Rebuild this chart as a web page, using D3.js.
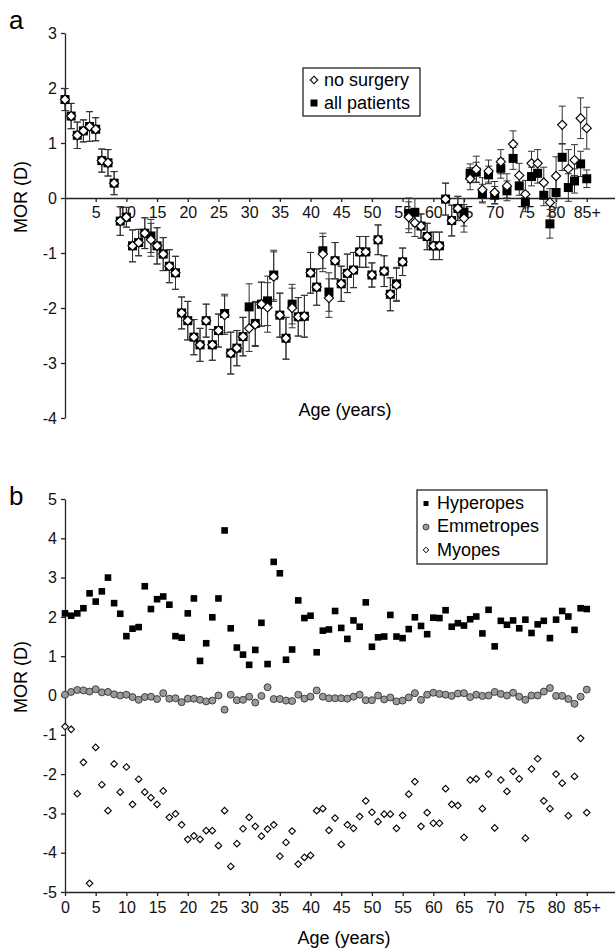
<!DOCTYPE html>
<html lang="en">
<head>
<meta charset="UTF-8">
<script src="https://d3js.org/d3.v7.min.js"></script>
<title>MOR by age</title>
<style>
  body { margin: 0; background: #fff; }
  svg { display: block; font-family: Arial, "Liberation Sans", Helvetica, sans-serif; }
</style>
</head>
<body>
<div id="chart"></div>
<script>
// ages 0..85 (85 = "85+")
const ages = d3.range(0, 86);

// panel a: mean ocular refraction, no surgery vs all patients
const noSurgery = [
  1.79, 1.49, 1.14, 1.22, 1.30, 1.25, 0.68, 0.64, 0.27, -0.42,
  -0.35, -0.87, -0.81, -0.64, -0.76, -0.87, -1.02, -1.24, -1.36, -2.09,
  -2.23, -2.53, -2.67, -2.23, -2.67, -2.41, -2.13, -2.82, -2.73, -2.52,
  -2.37, -2.30, -1.93, -1.99, -1.43, -2.13, -2.55, -2.00, -2.16, -2.15,
  -1.36, -1.62, -1.02, -1.82, -1.14, -1.56, -1.37, -1.31, -0.98, -0.98,
  -1.40, -0.76, -1.33, -1.75, -1.58, -1.16, -0.35, -0.45, -0.51, -0.70,
  -0.87, -0.87, -0.02, -0.41, -0.19, -0.37, 0.35, 0.52, 0.15, 0.49,
  0.10, 0.66, 0.22, 0.98, 0.41, 0.07, 0.63, 0.63, 0.28, -0.08,
  0.40, 1.33, 0.53, 0.69, 1.45, 1.27
];
const allPatients = [
  1.79, 1.49, 1.14, 1.22, 1.30, 1.25, 0.68, 0.64, 0.27, -0.42,
  -0.35, -0.87, -0.81, -0.64, -0.69, -0.87, -1.02, -1.24, -1.36, -2.09,
  -2.23, -2.53, -2.67, -2.23, -2.67, -2.41, -2.10, -2.82, -2.73, -2.52,
  -1.98, -2.28, -1.93, -1.87, -1.40, -2.13, -2.55, -1.93, -2.16, -2.15,
  -1.36, -1.62, -0.96, -1.71, -1.14, -1.56, -1.37, -1.31, -0.98, -0.98,
  -1.40, -0.76, -1.33, -1.75, -1.56, -1.16, -0.28, -0.26, -0.51, -0.70,
  -0.87, -0.87, -0.02, -0.41, -0.19, -0.26, 0.45, 0.47, 0.08, 0.42,
  0.05, 0.54, 0.13, 0.72, 0.22, -0.07, 0.39, 0.45, 0.05, -0.47,
  0.10, 0.74, 0.19, 0.31, 0.62, 0.35
];
// error bar half-lengths
const errNoSurgery = [
  0.20, 0.23, 0.24, 0.20, 0.27, 0.21, 0.21, 0.24, 0.21, 0.26,
  0.18, 0.29, 0.24, 0.28, 0.30, 0.33, 0.30, 0.30, 0.30, 0.29,
  0.35, 0.32, 0.30, 0.30, 0.28, 0.30, 0.35, 0.38, 0.32, 0.35,
  0.42, 0.40, 0.40, 0.45, 0.45, 0.40, 0.38, 0.36, 0.35, 0.38,
  0.37, 0.33, 0.32, 0.35, 0.33, 0.32, 0.35, 0.32, 0.28, 0.28,
  0.22, 0.27, 0.28, 0.30, 0.30, 0.25, 0.28, 0.25, 0.22, 0.24,
  0.25, 0.25, 0.29, 0.28, 0.22, 0.25, 0.20, 0.24, 0.22, 0.20,
  0.20, 0.22, 0.22, 0.24, 0.22, 0.25, 0.22, 0.25, 0.28, 0.25,
  0.35, 0.34, 0.35, 0.28, 0.37, 0.38
];
const errAll = [
  0.20, 0.23, 0.24, 0.20, 0.27, 0.21, 0.21, 0.24, 0.21, 0.26,
  0.18, 0.29, 0.24, 0.28, 0.30, 0.33, 0.30, 0.30, 0.30, 0.29,
  0.35, 0.32, 0.30, 0.30, 0.28, 0.30, 0.35, 0.38, 0.32, 0.35,
  0.42, 0.40, 0.40, 0.45, 0.45, 0.40, 0.38, 0.36, 0.35, 0.38,
  0.37, 0.33, 0.32, 0.35, 0.33, 0.32, 0.35, 0.32, 0.28, 0.28,
  0.22, 0.27, 0.28, 0.30, 0.30, 0.25, 0.28, 0.25, 0.22, 0.24,
  0.25, 0.25, 0.29, 0.28, 0.22, 0.25, 0.17, 0.18, 0.17, 0.16,
  0.16, 0.18, 0.18, 0.20, 0.17, 0.18, 0.17, 0.18, 0.19, 0.26,
  0.28, 0.24, 0.25, 0.22, 0.23, 0.16
];

// panel b: refractive groups
const hyperopes = [
  2.09, 2.03, 2.09, 2.22, 2.60, 2.39, 2.65, 3.00, 2.35, 2.08,
  1.51, 1.70, 1.74, 2.78, 2.20, 2.45, 2.52, 2.31, 1.51, 1.47,
  2.09, 2.47, 0.88, 1.33, 1.99, 2.47, 4.20, 1.71, 1.22, 1.04,
  0.78, 1.16, 1.85, 0.80, 3.40, 3.11, 0.91, 1.17, 2.42, 1.97,
  2.03, 1.10, 1.65, 1.68, 2.15, 1.72, 1.44, 1.91, 1.75, 2.37,
  1.24, 1.48, 1.50, 2.05, 1.50, 1.46, 1.69, 1.99, 1.77, 1.56,
  1.98, 1.97, 2.17, 1.75, 1.84, 1.78, 1.94, 2.01, 1.58, 2.18,
  1.25, 1.90, 1.80, 1.91, 1.71, 1.93, 1.59, 1.81, 1.90, 1.46,
  1.93, 2.15, 2.01, 1.67, 2.22, 2.20
];
const emmetropes = [
  0.02, 0.09, 0.14, 0.13, 0.10, 0.16, 0.08, 0.09, 0.03, 0.00,
  0.02, -0.04, -0.11, -0.04, -0.03, -0.09, 0.06, -0.08, -0.07, -0.17,
  -0.08, -0.08, -0.11, -0.15, -0.13, 0.00, -0.36, 0.02, -0.12, -0.11,
  -0.03, -0.18, -0.01, 0.21, -0.09, -0.09, -0.13, -0.14, 0.02, -0.08,
  -0.03, 0.13, -0.03, -0.07, -0.07, -0.07, -0.08, -0.03, 0.02, -0.12,
  -0.12, 0.00, -0.10, -0.05, -0.15, -0.13, -0.05, 0.06, -0.11, 0.02,
  0.07, 0.04, 0.02, -0.01, 0.05, 0.06, -0.04, 0.02, -0.01, 0.00,
  0.09, 0.04, 0.00, 0.07, -0.03, -0.11, 0.00, 0.00, 0.10, 0.19,
  -0.01, -0.01, -0.09, -0.21, -0.03, 0.15
];
const myopes = [
  -0.79, -0.86, -2.50, -1.70, -4.78, -1.32, -2.27, -2.93, -1.74, -2.46,
  -1.82, -2.77, -2.13, -2.46, -2.60, -2.77, -2.43, -3.10, -3.01, -3.29,
  -3.66, -3.57, -3.66, -3.44, -3.44, -3.82, -2.93, -4.35, -3.77, -3.39,
  -3.10, -3.33, -3.58, -3.40, -3.29, -4.09, -3.74, -3.45, -4.29, -4.12,
  -4.07, -2.93, -2.88, -3.43, -3.12, -3.79, -3.29, -3.38, -3.08, -2.68,
  -2.97, -3.21, -3.02, -3.02, -3.38, -3.05, -2.51, -2.19, -3.33, -2.98,
  -3.25, -3.25, -2.37, -2.77, -2.80, -3.61, -2.15, -2.12, -2.88, -2.00,
  -3.37, -2.15, -2.44, -1.93, -2.12, -3.63, -1.87, -1.61, -2.68, -2.88,
  -2.00, -2.23, -3.06, -2.06, -1.09, -2.98
];

const ticksA = [5, 10, 15, 20, 25, 30, 35, 40, 45, 50, 55, 60, 65, 70, 75, 80, 85];
const ticksB = [0, 5, 10, 15, 20, 25, 30, 35, 40, 45, 50, 55, 60, 65, 70, 75, 80, 85];
const ageLabel = d => (d === 85 ? '85+' : String(d));
const yTicksA = [-4, -3, -2, -1, 0, 1, 2, 3];
const yTicksB = [-5, -4, -3, -2, -1, 0, 1, 2, 3, 4, 5];
const plainNum = d => String(d); // keeps "-1" with a hyphen, like the original

const svg = d3.select('#chart').append('svg').attr('width', 615).attr('height', 948);

const x = d3.scaleLinear().domain([0, 89.6]).range([65, 615]);
const diamond = r => `M0,${-r}L${r},0L0,${r}L${-r},0Z`;

function styleAxis(g) {
  g.selectAll('path, line').attr('stroke', '#222').attr('stroke-width', 1.3);
  g.selectAll('text').attr('font-size', 16).attr('fill', '#111');
}

// ---------- panel a ----------
const yA = d3.scaleLinear().domain([-4, 3]).range([418, 33]);
const gA = svg.append('g');

gA.append('g')
  .attr('transform', `translate(0,${yA(0)})`)
  .call(d3.axisBottom(x).tickValues(ticksA).tickFormat(ageLabel).tickSize(4).tickPadding(5).tickSizeOuter(0))
  .call(styleAxis);
gA.append('g')
  .attr('transform', `translate(${x(0)},0)`)
  .call(d3.axisLeft(yA).tickValues(yTicksA).tickFormat(plainNum).tickSize(4).tickPadding(4).tickSizeOuter(0))
  .call(styleAxis);

function errorBars(g, vals, errs) {
  const eb = g.append('g').attr('stroke', '#333').attr('stroke-width', 1);
  ages.forEach((a, i) => {
    const cx = x(a), lo = yA(vals[i] - errs[i]), hi = yA(vals[i] + errs[i]);
    eb.append('line').attr('x1', cx).attr('x2', cx).attr('y1', lo).attr('y2', hi);
    eb.append('line').attr('x1', cx - 3.5).attr('x2', cx + 3.5).attr('y1', lo).attr('y2', lo);
    eb.append('line').attr('x1', cx - 3.5).attr('x2', cx + 3.5).attr('y1', hi).attr('y2', hi);
  });
}
errorBars(gA, allPatients, errAll);
errorBars(gA, noSurgery, errNoSurgery);

gA.append('g').selectAll('rect')
  .data(allPatients).enter().append('rect')
  .attr('x', (d, i) => x(ages[i]) - 4.5)
  .attr('y', d => yA(d) - 4.5)
  .attr('width', 9).attr('height', 9)
  .attr('fill', '#000');

gA.append('g').selectAll('path')
  .data(noSurgery).enter().append('path')
  .attr('transform', (d, i) => `translate(${x(ages[i])},${yA(d)})`)
  .attr('d', diamond(4.6))
  .attr('fill', '#fff').attr('stroke', '#000').attr('stroke-width', 1.1);

// legend a
const lgA = gA.append('g');
lgA.append('rect').attr('x', 303).attr('y', 68).attr('width', 117).attr('height', 48)
  .attr('fill', '#fff').attr('stroke', '#111').attr('stroke-width', 1.2);
lgA.append('path').attr('transform', 'translate(314,80)').attr('d', diamond(3.8))
  .attr('fill', '#fff').attr('stroke', '#000').attr('stroke-width', 1.1);
lgA.append('rect').attr('x', 310.5).attr('y', 99.5).attr('width', 7).attr('height', 7).attr('fill', '#000');
lgA.append('text').attr('x', 324).attr('y', 86).attr('font-size', 18).text('no surgery');
lgA.append('text').attr('x', 324).attr('y', 109).attr('font-size', 18).text('all patients');

gA.append('text').attr('x', 9).attr('y', 29).attr('font-size', 26).text('a');
gA.append('text').attr('transform', 'translate(27,197) rotate(-90)')
  .attr('text-anchor', 'middle').attr('font-size', 18).text('MOR (D)');
gA.append('text').attr('x', 345).attr('y', 416)
  .attr('text-anchor', 'middle').attr('font-size', 18).text('Age (years)');

// ---------- panel b ----------
const yB = d3.scaleLinear().domain([-5, 5]).range([892, 499]);
const gB = svg.append('g');

gB.append('g')
  .attr('transform', `translate(0,${yB(-5)})`)
  .call(d3.axisBottom(x).tickValues(ticksB).tickFormat(ageLabel).tickSize(4).tickPadding(6).tickSizeOuter(0))
  .call(styleAxis);
gB.append('g')
  .attr('transform', `translate(${x(0)},0)`)
  .call(d3.axisLeft(yB).tickValues(yTicksB).tickFormat(plainNum).tickSize(4).tickPadding(4).tickSizeOuter(0))
  .call(styleAxis);

gB.append('g').selectAll('rect')
  .data(hyperopes).enter().append('rect')
  .attr('x', (d, i) => x(ages[i]) - 3.3)
  .attr('y', d => yB(d) - 3.3)
  .attr('width', 6.6).attr('height', 6.6)
  .attr('fill', '#000');

gB.append('g').selectAll('circle')
  .data(emmetropes).enter().append('circle')
  .attr('cx', (d, i) => x(ages[i]))
  .attr('cy', d => yB(d))
  .attr('r', 3.5)
  .attr('fill', '#9a9a9a').attr('stroke', '#333').attr('stroke-width', 0.9);

gB.append('g').selectAll('path')
  .data(myopes).enter().append('path')
  .attr('transform', (d, i) => `translate(${x(ages[i])},${yB(d)})`)
  .attr('d', diamond(3.3))
  .attr('fill', '#fff').attr('stroke', '#000').attr('stroke-width', 1.1);

// legend b
const lgB = gB.append('g');
lgB.append('rect').attr('x', 417).attr('y', 490).attr('width', 130).attr('height', 74)
  .attr('fill', '#fff').attr('stroke', '#111').attr('stroke-width', 1.2);
lgB.append('rect').attr('x', 423.5).attr('y', 501).attr('width', 5).attr('height', 5).attr('fill', '#000');
lgB.append('circle').attr('cx', 426).attr('cy', 527).attr('r', 3)
  .attr('fill', '#9a9a9a').attr('stroke', '#333').attr('stroke-width', 0.9);
lgB.append('path').attr('transform', 'translate(426,550)').attr('d', diamond(2.8))
  .attr('fill', '#fff').attr('stroke', '#000').attr('stroke-width', 1);
lgB.append('text').attr('x', 437).attr('y', 509).attr('font-size', 18).text('Hyperopes');
lgB.append('text').attr('x', 437).attr('y', 532).attr('font-size', 18).text('Emmetropes');
lgB.append('text').attr('x', 437).attr('y', 556).attr('font-size', 18).text('Myopes');

gB.append('text').attr('x', 9).attr('y', 505).attr('font-size', 26).text('b');
gB.append('text').attr('transform', 'translate(27,677) rotate(-90)')
  .attr('text-anchor', 'middle').attr('font-size', 18).text('MOR (D)');
gB.append('text').attr('x', 344).attr('y', 944)
  .attr('text-anchor', 'middle').attr('font-size', 18).text('Age (years)');
</script>
</body>
</html>
